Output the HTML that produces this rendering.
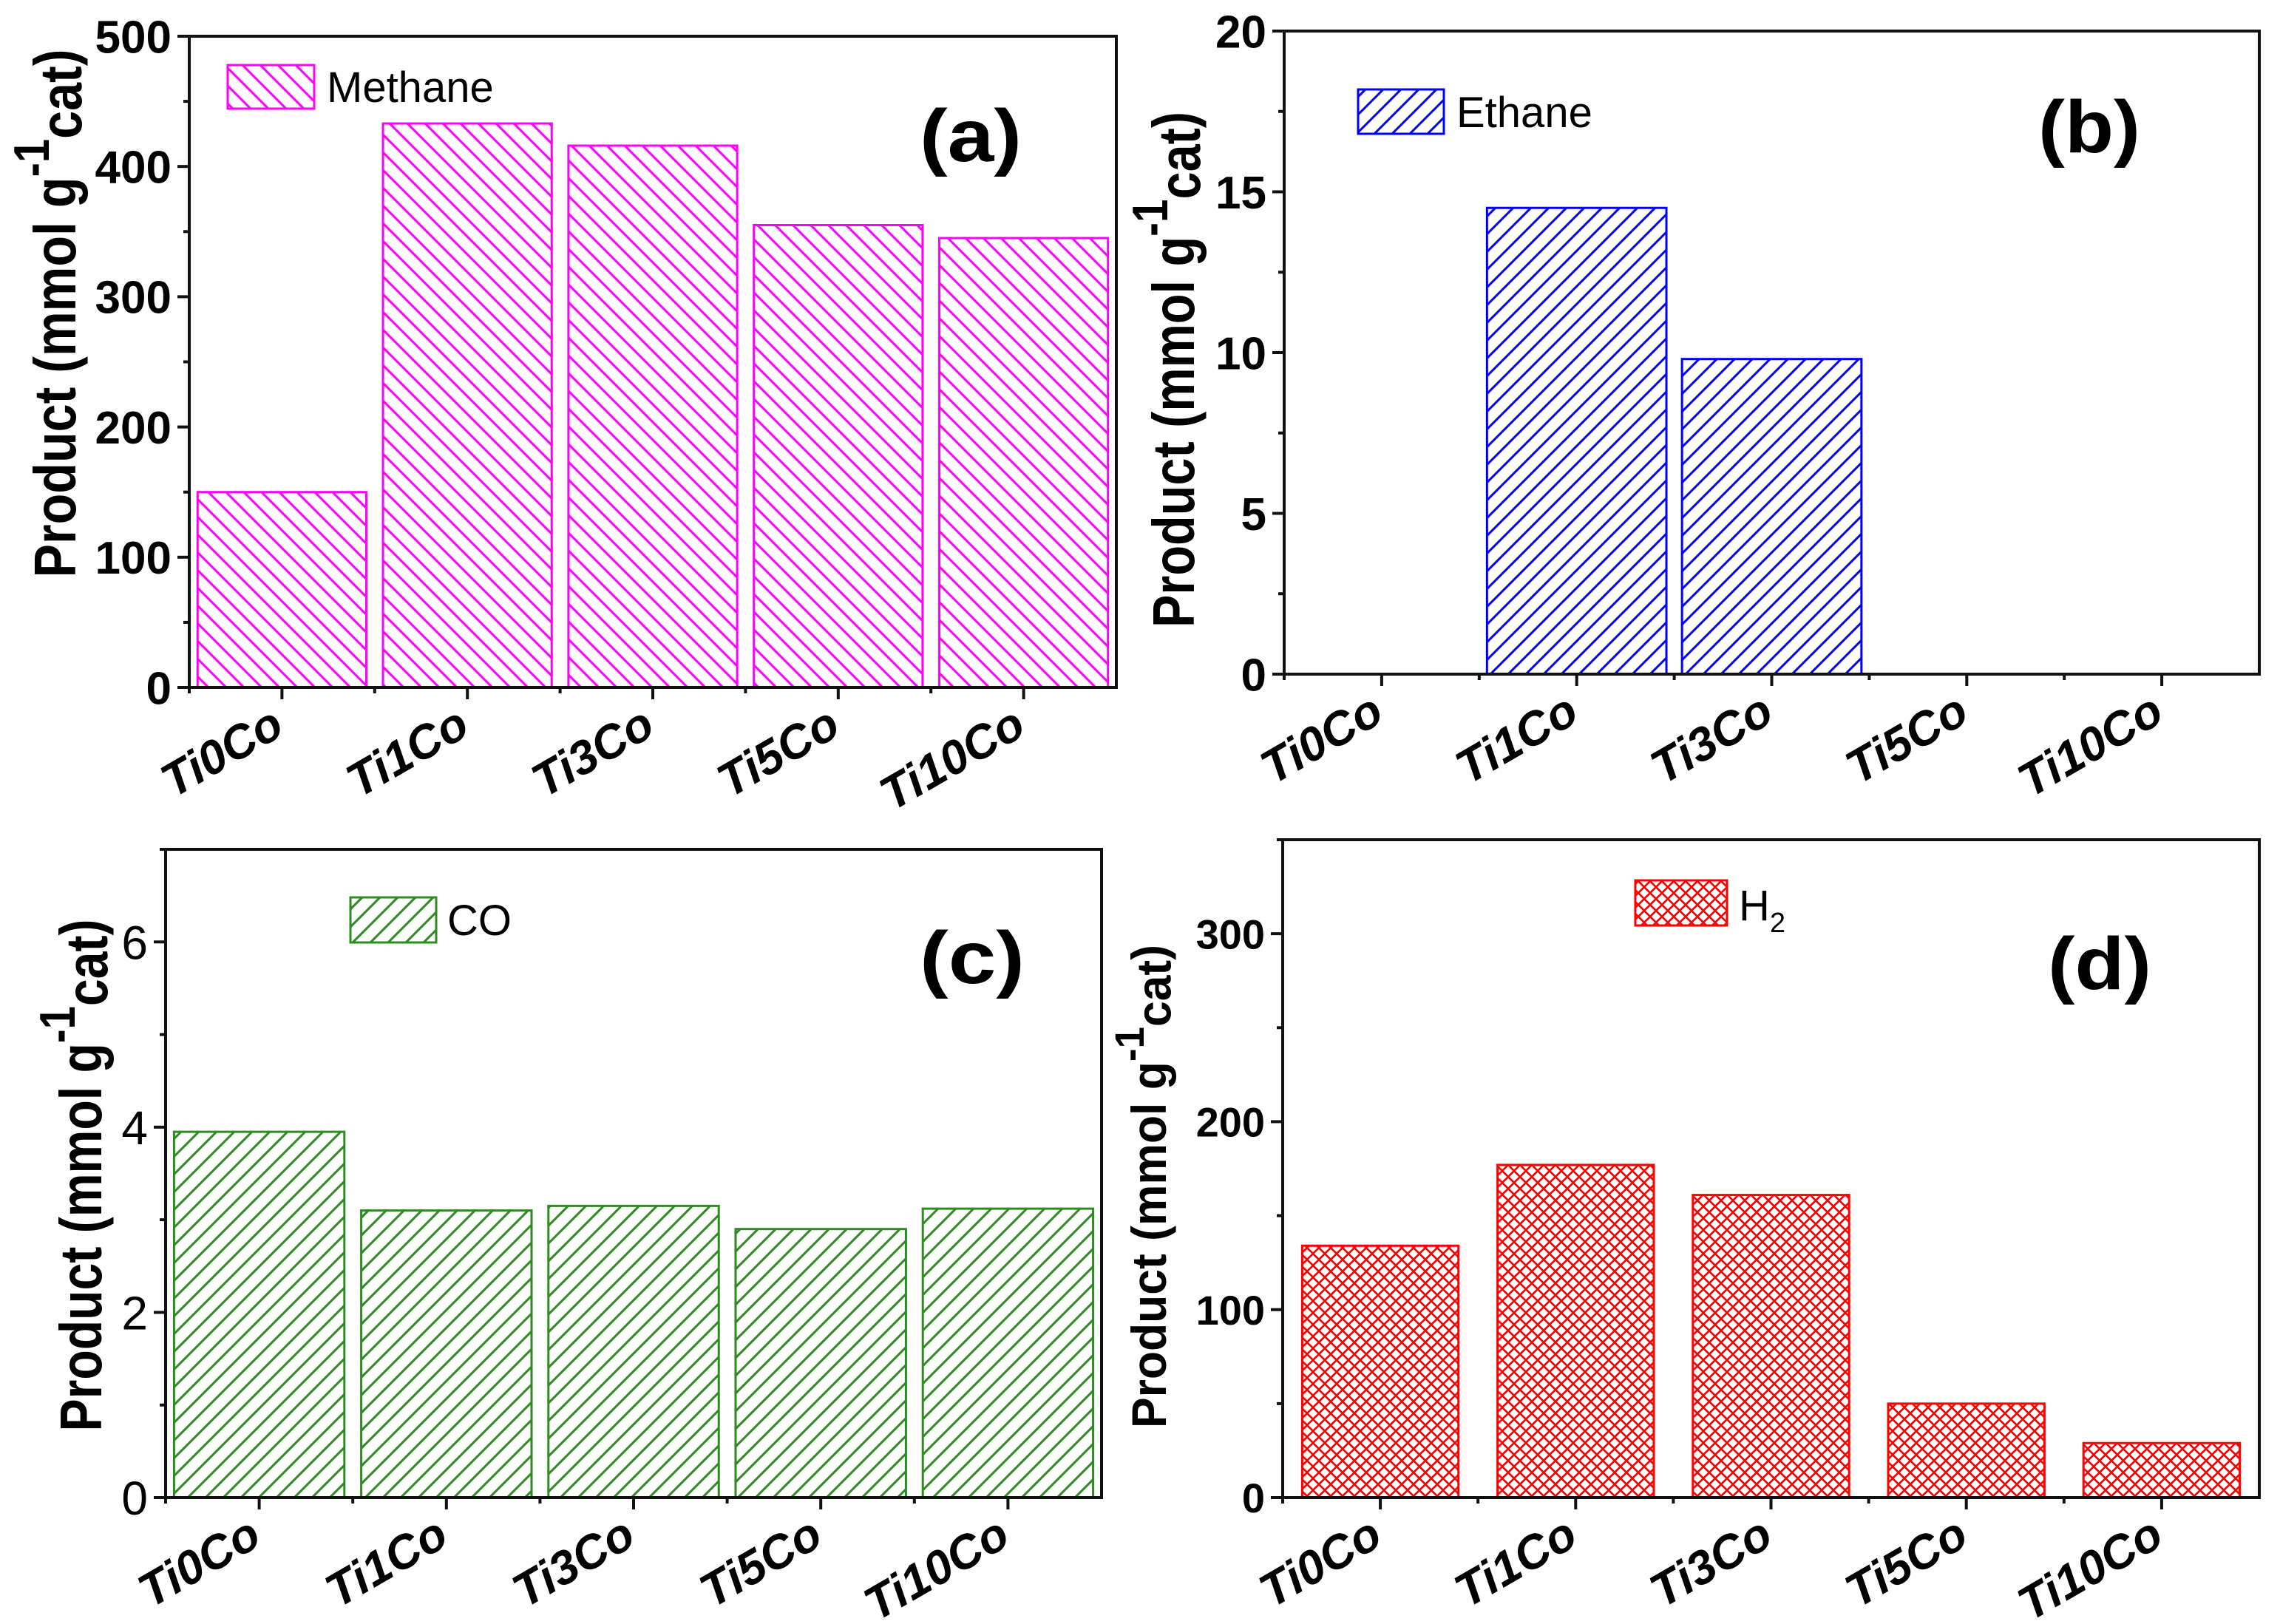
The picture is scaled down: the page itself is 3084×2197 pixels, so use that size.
<!DOCTYPE html>
<html><head><meta charset="utf-8"><style>
html,body{margin:0;padding:0;background:#fff;}
svg{display:block;}
</style></head><body>
<svg id="fig" xmlns="http://www.w3.org/2000/svg" width="3084" height="2197" viewBox="0 0 3084 2197">
<defs>
<pattern id="hatchA" patternUnits="userSpaceOnUse" width="24" height="24"><path d="M-6,-6 L30,30 M-6,18 L6,30 M18,-6 L30,6" stroke="#ff00ff" stroke-width="3"/></pattern>
<pattern id="hatchB" patternUnits="userSpaceOnUse" width="24" height="24"><path d="M-6,30 L30,-6 M-6,6 L6,-6 M18,30 L30,18" stroke="#0000ff" stroke-width="3"/></pattern>
<pattern id="hatchC" patternUnits="userSpaceOnUse" width="24" height="24"><path d="M-6,30 L30,-6 M-6,6 L6,-6 M18,30 L30,18" stroke="#2e8b22" stroke-width="3"/></pattern>
<pattern id="hatchD" patternUnits="userSpaceOnUse" width="16" height="16"><path d="M-4,-4 L20,20 M-4,12 L4,20 M12,-4 L20,4 M-4,20 L20,-4 M-4,4 L4,-4 M12,20 L20,12" stroke="#ff0000" stroke-width="2.6"/></pattern>
</defs>
</svg>
<script>
const categories = ["Ti0Co","Ti1Co","Ti3Co","Ti5Co","Ti10Co"];
const methaneValues = [150, 433, 416, 355, 345];
const ethaneValues = [0, 14.5, 9.8, 0, 0];
const coValues = [3.95, 3.1, 3.15, 2.9, 3.12];
const h2Values = [134, 177, 161, 50, 29];
const methaneTicks = [0,100,200,300,400,500];
const ethaneTicks = [0,5,10,15,20];
const coTicks = [0,2,4,6];
const h2Ticks = [0,100,200,300];

const NS = "http://www.w3.org/2000/svg";
const svg = document.getElementById("fig");
function mk(tag, attrs, parent){
  const e = document.createElementNS(NS, tag);
  for (const k in attrs) e.setAttribute(k, attrs[k]);
  (parent||svg).appendChild(e);
  return e;
}

const panels = [
  {id:"a", values:methaneValues, ticks:methaneTicks, max:500, minorStep:50, L:256, R:1510, T:49, B:930, frac:0.91,
   fill:"url(#hatchA)", color:"#ff00ff", boldTicks:true, tickFont:62,
   legend:{x:308,y:88,w:117,h:59,text:"Methane",tx:442,ty:138},
   label:{text:"(a)",x:1313,y:218,len:138},
   title:{x:73,cy:424,len:715,fs:80}},
  {id:"b", values:ethaneValues, ticks:ethaneTicks, max:20, minorStep:2.5, L:1737, R:3056, T:42, B:912, frac:0.92,
   fill:"url(#hatchB)", color:"#0000ff", boldTicks:true, tickFont:62,
   legend:{x:1837,y:121,w:116,h:60,text:"Ethane",tx:1970,ty:172},
   label:{text:"(b)",x:2826,y:206,len:138},
   title:{x:1586,cy:500,len:698,fs:80}},
  {id:"c", values:coValues, ticks:coTicks, max:7, minorStep:1, L:224, R:1490, T:1149, B:2026, frac:0.91,
   fill:"url(#hatchC)", color:"#2e8b22", boldTicks:false, tickFont:64,
   legend:{x:474,y:1214,w:116,h:61,text:"CO",tx:605,ty:1265},
   label:{text:"(c)",x:1315,y:1330,len:142},
   title:{x:108,cy:1590,len:693,fs:80}},
  {id:"d", values:h2Values, ticks:h2Ticks, max:350, minorStep:50, L:1735, R:3056, T:1136, B:2026, frac:0.8,
   fill:"url(#hatchD)", color:"#ff0000", boldTicks:true, tickFont:56,
   legend:{x:2212,y:1191,w:124,h:61,text:"H",sub:"2",tx:2352,ty:1245},
   label:{text:"(d)",x:2840,y:1338,len:140},
   title:{x:1553,cy:1605,len:654,fs:66}}
];

panels.forEach(p => {
  const g = mk("g", {});
  
  
  const y = v => p.B - (v / p.max) * (p.B - p.T);
  const band = (p.R - p.L) / categories.length;
  const xc = i => p.L + band * (i + 0.5);

  p.values.forEach((v, i) => {
    if (v <= 0) return;
    const w = band * p.frac;
    const r = mk("rect", {x:xc(i)-w/2, y:y(v), width:w, height:p.B - y(v), fill:p.fill, stroke:p.color, "stroke-width":3}, g);
    
    
  });

  const frame = mk("rect", {x:p.L, y:p.T, width:p.R-p.L, height:p.B-p.T, fill:"none", stroke:"#111", "stroke-width":4}, g);
  
  

  for (let v = 0; v <= p.max + 1e-9; v += p.minorStep) {
    const isMajor = p.ticks.some(t => Math.abs(t - v) < 1e-9);
    const tk = mk("line", {x1:p.L - (isMajor?16:8), x2:p.L, y1:y(v), y2:y(v), stroke:"#111", "stroke-width":4}, g);
    
    
  }
  p.ticks.forEach(t => {
    const tl = mk("text", {x:p.L - 24, y:y(t) + p.tickFont*0.36, "text-anchor":"end",
      "font-family":"'Liberation Sans', sans-serif", "font-size":p.tickFont, "font-weight":p.boldTicks?"bold":"normal", fill:"#000"}, g);
    tl.textContent = String(t);
    
    
  });

  categories.forEach((c, i) => {
    const tk = mk("line", {x1:xc(i), x2:xc(i), y1:p.B, y2:p.B+16, stroke:"#111", "stroke-width":4}, g);
    
    
    const mt = mk("line", {x1:p.L+band*i, x2:p.L+band*i, y1:p.B, y2:p.B+8, stroke:"#111", "stroke-width":4}, g);
    
    
    const tx = xc(i) + 6, ty = p.B + 62;
    const tl = mk("text", {x:tx, y:ty, "text-anchor":"end", transform:`rotate(-30 ${tx} ${ty})`,
      "font-family":"'Liberation Sans', sans-serif", "font-size":64, "font-weight":"bold", "font-style":"italic", fill:"#000"}, g);
    tl.textContent = c;
    
    
  });

  const t = p.title;
  const tx0 = t.x + t.fs*0.36;
  const yt = mk("text", {x:tx0, y:t.cy, "text-anchor":"middle", transform:`rotate(-90 ${tx0} ${t.cy})`,
    textLength:t.len, lengthAdjust:"spacingAndGlyphs",
    "font-family":"'Liberation Sans', sans-serif", "font-size":t.fs, "font-weight":"bold", fill:"#000"}, g);
  
  
  const s1 = mk("tspan", {}, yt); s1.textContent = "Product (mmol g";
  const s2 = mk("tspan", {dy:-t.fs*0.45, "font-size":t.fs*0.85}, yt); s2.textContent = "-1";
  const s3 = mk("tspan", {dy:t.fs*0.55}, yt); s3.textContent = "cat";
  const s4 = mk("tspan", {dy:-t.fs*0.1}, yt); s4.textContent = ")";

  const lg = p.legend;
  const lgg = mk("g", {}, g);
  
  
  const sw = mk("rect", {x:lg.x, y:lg.y, width:lg.w, height:lg.h, fill:p.fill, stroke:p.color, "stroke-width":3}, lgg);
  
  
  const lt = mk("text", {x:lg.tx, y:lg.ty, "font-family":"'Liberation Sans Narrow','Liberation Sans', sans-serif", "font-size":58, fill:"#000"}, lgg);
  
  
  lt.textContent = lg.text;
  if (lg.sub) { const ss = mk("tspan", {dy:16, "font-size":38}, lt); ss.textContent = lg.sub; }

  const pl = mk("text", {x:p.label.x, y:p.label.y, "text-anchor":"middle", textLength:p.label.len, lengthAdjust:"spacingAndGlyphs",
    "font-family":"'Liberation Sans', sans-serif", "font-size":100, "font-weight":"bold", fill:"#000"}, g);
  pl.textContent = p.label.text;
  
  
});
</script>
</body></html>
